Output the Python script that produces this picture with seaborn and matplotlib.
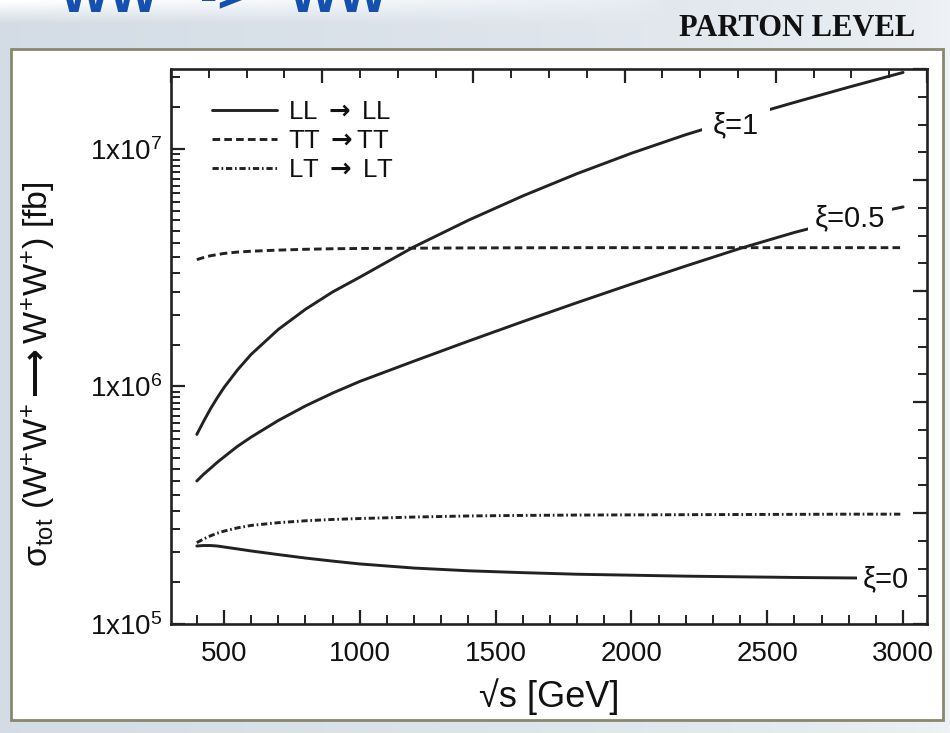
import numpy as np
import pandas as pd
import matplotlib
matplotlib.use("Agg")
import matplotlib.pyplot as plt
import seaborn as sns
from matplotlib.ticker import (FixedLocator, FixedFormatter, LogLocator,
                               NullFormatter, MultipleLocator)
from matplotlib.patches import Rectangle

# ---------------- data ----------------
sqrt_s = [400, 425, 450, 475, 500, 550, 600, 700, 800, 900, 1000, 1200,
          1400, 1600, 1800, 2000, 2200, 2400, 2600, 2800, 3000]
sigma_ll_xi1 = [6.28e5, 7.13e5, 8.04e5, 8.95e5, 9.89e5, 1.175e6, 1.365e6,
                1.738e6, 2.113e6, 2.5e6, 2.884e6, 3.873e6, 5.01e6, 6.34e6,
                7.87e6, 9.59e6, 1.148e7, 1.349e7, 1.57e7, 1.82e7, 2.099e7]
sigma_ll_xi05 = [4.0e5, 4.27e5, 4.52e5, 4.79e5, 5.05e5, 5.6e5, 6.12e5,
                 7.19e5, 8.28e5, 9.38e5, 1.05e6, 1.279e6, 1.552e6, 1.875e6,
                 2.254e6, 2.698e6, 3.214e6, 3.811e6, 4.45e6, 5.1e6, 5.7e6]
sigma_ll_xi0 = [2.13e5, 2.14e5, 2.14e5, 2.13e5, 2.11e5, 2.07e5, 2.03e5,
                1.96e5, 1.895e5, 1.84e5, 1.79e5, 1.72e5, 1.675e5, 1.645e5,
                1.62e5, 1.605e5, 1.59e5, 1.58e5, 1.57e5, 1.563e5, 1.558e5]
sigma_tt = [3.42e6, 3.49e6, 3.55e6, 3.59e6, 3.63e6, 3.68e6, 3.71e6, 3.75e6,
            3.78e6, 3.80e6, 3.81e6, 3.82e6, 3.83e6, 3.835e6, 3.84e6, 3.84e6,
            3.84e6, 3.84e6, 3.84e6, 3.84e6, 3.84e6]
sigma_lt = [2.2e5, 2.28e5, 2.35e5, 2.41e5, 2.46e5, 2.54e5, 2.6e5, 2.67e5,
            2.72e5, 2.755e5, 2.78e5, 2.82e5, 2.85e5, 2.865e5, 2.875e5,
            2.88e5, 2.885e5, 2.89e5, 2.895e5, 2.9e5, 2.9e5]

legend_labels = [r"LL $\mathsf{\rightarrow}$ LL", r"TT $\mathsf{\rightarrow}$TT",
                 r"LT $\mathsf{\rightarrow}$ LT"]
curve_labels = ["\u03be=1", "\u03be=0.5", "\u03be=0"]
curve_label_x = [2385, 2805, 2935]
curve_label_y = [1.26e7, 5.1e6, 1.55e5]

y_major = [1e5, 1e6, 1e7]
y_major_labels = [r"1x10$^{5}$", r"1x10$^{6}$", r"1x10$^{7}$"]
x_major = [500, 1000, 1500, 2000, 2500, 3000]

# ---------------- style ----------------
sns.set_theme(style="ticks")
plt.rcParams["font.family"] = ["Liberation Sans", "DejaVu Sans"]
plt.rcParams["mathtext.fontset"] = "custom"
plt.rcParams["mathtext.rm"] = "Liberation Sans"
plt.rcParams["mathtext.it"] = "Liberation Sans"
plt.rcParams["mathtext.bf"] = "Liberation Sans:bold"
plt.rcParams["mathtext.sf"] = "DejaVu Sans:bold"
plt.rcParams["lines.scale_dashes"] = False
plt.rcParams["axes.linewidth"] = 1.8

INK = "#222222"
TXT = "#111111"
W, H = 950, 733
fig = plt.figure(figsize=(W / 100, H / 100), dpi=100)

# slide background (soft gradient, white toward the top-left)
bg = fig.add_axes([0, 0, 1, 1], zorder=-10)
bg.axis("off")
gx = np.linspace(0, 1, 300)[None, :, None]
gy = np.linspace(0, 1, 300)[:, None, None]      # 0 = top
c0 = np.array([0.83, 0.865, 0.90])
c1 = np.array([0.935, 0.948, 0.962])
base = c0 * (1 - gx) ** 0.6 + c1 * (1 - (1 - gx) ** 0.6)
top_fade = np.clip(1 - gy / 0.03, 0, 1) * np.clip(1 - gx / 0.7, 0, 1) ** 0.5
img = base * (1 - top_fade) + 1.0 * top_fade
bg.imshow(img, aspect="auto", extent=[0, 1, 0, 1], origin="upper")
bg.set_xlim(0, 1)
bg.set_ylim(0, 1)
bg.add_patch(Rectangle((11 / W, 1 - 720 / H), 932 / W, 671 / H,
                       facecolor="white", edgecolor="#8a876e", linewidth=2.0))

# cut-off slide title (only its lower edge is visible in the reference) and header
for txt, xp in (("WW", 60), ("->", 200), ("WW", 289)):
    fig.text(xp / W, 1 - 12 / H, txt, color="#1450b0", fontsize=38,
             fontweight="bold", va="baseline", ha="left")
fig.text(915 / W, 1 - 28 / H, "PARTON LEVEL",
         family=["Liberation Serif", "DejaVu Serif"],
         fontsize=22, fontweight="bold", color="#111111", ha="right", va="center")

# main axes
ax = fig.add_axes([171 / W, 1 - 624 / H, 756 / W, 555 / H])
ax.set_facecolor("white")

df = pd.DataFrame({"sqrt_s": sqrt_s, "xi1": sigma_ll_xi1, "xi05": sigma_ll_xi05,
                   "xi0": sigma_ll_xi0, "tt": sigma_tt, "lt": sigma_lt})

lw = 2.1
sns.lineplot(data=df, x="sqrt_s", y="xi1", ax=ax, color=INK, lw=lw,
             estimator=None, label=legend_labels[0])
sns.lineplot(data=df, x="sqrt_s", y="tt", ax=ax, color=INK, lw=lw,
             estimator=None, linestyle=(0, (5.5, 3.0)), label=legend_labels[1])
sns.lineplot(data=df, x="sqrt_s", y="lt", ax=ax, color=INK, lw=lw,
             estimator=None, linestyle=(0, (4.5, 2.0, 1.2, 2.0)),
             label=legend_labels[2])
sns.lineplot(data=df, x="sqrt_s", y="xi05", ax=ax, color=INK, lw=lw,
             estimator=None)
sns.lineplot(data=df, x="sqrt_s", y="xi0", ax=ax, color=INK, lw=lw,
             estimator=None)

ax.set_yscale("log")
ax.set_xlim(305, 3088)
ax.set_ylim(1e5, 2.17e7)

ax.yaxis.set_major_locator(FixedLocator(y_major))
ax.yaxis.set_major_formatter(FixedFormatter(y_major_labels))
ax.yaxis.set_minor_locator(LogLocator(base=10, subs=np.arange(1.5, 10, 0.5),
                                      numticks=50))
ax.yaxis.set_minor_formatter(NullFormatter())
ax.xaxis.set_major_locator(FixedLocator(x_major))
ax.xaxis.set_major_formatter(FixedFormatter([str(v) for v in x_major]))
ax.xaxis.set_minor_locator(MultipleLocator(100))

ax.tick_params(which="both", direction="in", colors=INK, labelcolor=TXT,
               top=False, right=False)
ax.tick_params(which="major", length=10, width=1.6, labelsize=20)
ax.tick_params(which="minor", length=6.5, width=1.4)
ax.tick_params(axis="x", which="major", pad=12)
ax.tick_params(axis="y", which="major", pad=6)
for s in ax.spines.values():
    s.set_color(INK)
    s.set_linewidth(1.9)

ax.set_xlabel("\u221as [GeV]", fontsize=26, color=TXT, labelpad=8)
ax.set_ylabel(r"σ$_{\mathrm{tot}}$ (W$^{+}$W$^{+}$$\mathsf{\longrightarrow}$W$^{+}$W$^{+}$) [fb]",
              fontsize=24.5, color=TXT)
ax.yaxis.set_label_coords(-0.15, 0.45)

# secondary frame ticks on top and right
axr = ax.twinx()
axr.set_ylim(0, 5)
axr.yaxis.set_major_locator(MultipleLocator(1))
axr.yaxis.set_minor_locator(MultipleLocator(0.25))
axr.yaxis.set_major_formatter(NullFormatter())
axr.tick_params(which="both", direction="in", colors=INK, left=False, right=True)
axr.tick_params(which="major", length=10, width=1.6)
axr.tick_params(which="minor", length=6.5, width=1.4)
axt = ax.twiny()
axt.set_xlim(0, 5)
axt.xaxis.set_major_locator(MultipleLocator(1))
axt.xaxis.set_minor_locator(MultipleLocator(0.25))
axt.xaxis.set_major_formatter(NullFormatter())
axt.tick_params(which="both", direction="in", colors=INK, bottom=False, top=True)
axt.tick_params(which="major", length=10, width=1.6)
axt.tick_params(which="minor", length=6.5, width=1.4)
for a in (axr, axt):
    for s in a.spines.values():
        s.set_visible(False)

# curve labels covering the lines
pads = [8, 5, 4]
for lab, lx, ly, p in zip(curve_labels, curve_label_x, curve_label_y, pads):
    ax.text(lx, ly, lab, fontsize=21, color=TXT, ha="center", va="center",
            bbox=dict(facecolor="white", edgecolor="none", pad=p), zorder=5)

leg = ax.legend(loc="upper left", bbox_to_anchor=(0.054, 0.945), frameon=False,
                fontsize=18.5, handlelength=2.55, handletextpad=0.4,
                labelspacing=0.2, borderpad=0, borderaxespad=0)
for t in leg.get_texts():
    t.set_color(TXT)

fig.savefig("out.png", dpi=100, facecolor=fig.get_facecolor())
